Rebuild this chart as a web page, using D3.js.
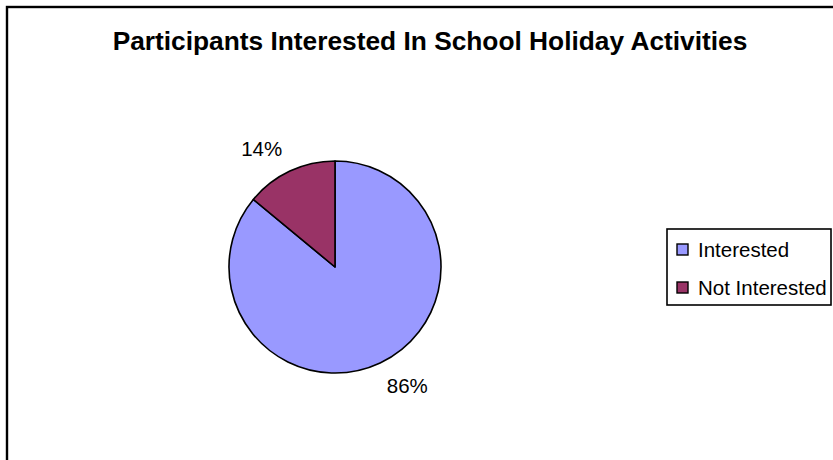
<!DOCTYPE html>
<html>
<head>
<meta charset="utf-8">
<script src="https://cdn.jsdelivr.net/npm/d3@7"></script>
<style>
  html, body { margin: 0; padding: 0; background: #fff; }
  svg { display: block; font-family: "Liberation Sans", Arial, sans-serif; }
</style>
</head>
<body>
<svg id="chart" width="833" height="460"></svg>
<script>
// Survey responses
const title = "Participants Interested In School Holiday Activities";
const categories = ["Interested", "Not Interested"];
const shares = [86, 14];
const colors = ["#9999FF", "#993366"];

const width = 833, height = 460;
const svg = d3.select("#chart");

// outer chart frame (runs off the right and bottom edges)
svg.append("rect")
  .attr("x", 7).attr("y", 7)
  .attr("width", width + 20).attr("height", height + 20)
  .attr("fill", "#fff")
  .attr("stroke", "#000")
  .attr("stroke-width", 2.4);

svg.append("text")
  .attr("x", 430).attr("y", 50)
  .attr("text-anchor", "middle")
  .attr("font-size", 26.3)
  .attr("font-weight", "bold")
  .attr("fill", "#000")
  .text(title);

const data = categories.map((c, i) => ({ name: c, value: shares[i], color: colors[i] }));

const cx = 335, cy = 267, r = 106;
const pie = d3.pie().sort(null).value(d => d.value);
const arcs = pie(data);
const arc = d3.arc().innerRadius(0).outerRadius(r);
const labelArc = d3.arc().innerRadius(131).outerRadius(131);

const g = svg.append("g").attr("transform", `translate(${cx},${cy})`);

g.selectAll("path.slice")
  .data(arcs)
  .join("path")
  .attr("class", "slice")
  .attr("d", arc)
  .attr("fill", d => d.data.color)
  .attr("stroke", "#000")
  .attr("stroke-width", 1.6)
  .attr("stroke-linejoin", "round");

// percentage labels sit just outside each slice, pushed away from the pie
g.selectAll("text.pct")
  .data(arcs)
  .join("text")
  .attr("class", "pct")
  .attr("transform", d => {
    const [x, y] = labelArc.centroid(d);
    const left = (d.startAngle + d.endAngle) / 2 > Math.PI;
    return `translate(${x + (left ? 3 : -4)},${y})`;
  })
  .attr("text-anchor", d => ((d.startAngle + d.endAngle) / 2 > Math.PI ? "end" : "start"))
  .attr("dy", "0.35em")
  .attr("font-size", 20.5)
  .attr("fill", "#000")
  .text(d => d.data.value + "%");

// legend
const legend = svg.append("g").attr("transform", "translate(667,229)");
legend.append("rect")
  .attr("x", 0).attr("y", 0)
  .attr("width", 164).attr("height", 76)
  .attr("fill", "#fff")
  .attr("stroke", "#000")
  .attr("stroke-width", 1.6);

const item = legend.selectAll("g.item")
  .data(data)
  .join("g")
  .attr("class", "item")
  .attr("transform", (d, i) => `translate(10,${15 + i * 38})`);

item.append("rect")
  .attr("width", 11).attr("height", 11)
  .attr("fill", d => d.color)
  .attr("stroke", "#000")
  .attr("stroke-width", 1.4);

item.append("text")
  .attr("x", 21).attr("y", 13)
  .attr("font-size", 20.5)
  .attr("fill", "#000")
  .text(d => d.name);
</script>
</body>
</html>
